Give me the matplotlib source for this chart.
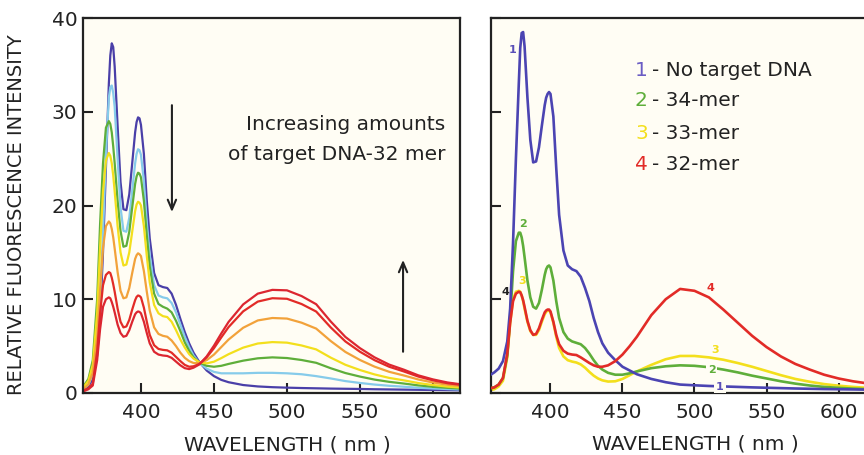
import matplotlib
matplotlib.use("Agg")
import matplotlib.pyplot as plt

# ---------------- data ----------------
wavelength = [358, 361, 364, 367, 370,
              372, 374, 376, 378, 379, 380, 381, 382, 384, 386, 388, 390, 392, 394, 396, 397, 398, 399, 400,
              402, 404, 406,
              409, 412, 415, 418, 421, 424, 427, 430, 433, 436,
              440, 445, 450, 455, 460,
              470, 480, 490, 500, 510, 520, 530, 540, 550, 560, 570, 580, 590, 600, 610,
              619]

# left panel: titration with increasing amounts of target DNA-32mer
left_blue = [0.3, 0.4, 0.7, 1.5, 4.0,
             8, 15, 24, 33, 36.0, 37.3, 36.9, 34.8, 28.5, 22.5, 19.6, 19.5, 21.2, 24.5, 27.8, 28.9, 29.4, 29.3, 28.6,
             25.5, 20.5, 16.5,
             12.8, 11.5, 11.3, 11.2, 10.6, 9.4, 7.9, 6.5, 5.3, 4.3,
             3.3, 2.4, 1.8, 1.4, 1.15,
             0.85, 0.7, 0.62, 0.57, 0.53, 0.5, 0.47, 0.45, 0.43, 0.4, 0.38, 0.36, 0.34, 0.32, 0.3,
             0.28]
left_lightblue = [0.4, 0.5, 0.9, 2.0, 5.0,
                  10, 17, 25.5, 31.5, 32.6, 32.8, 32.0, 30.5, 25, 19.8, 17.3, 17.2, 18.7, 21.6, 24.5, 25.5, 26.0, 25.9, 25.4,
                  22.6, 18.2, 14.7,
                  11.5, 10.4, 10.2, 10.1, 9.6, 8.6, 7.3, 6.0, 4.9, 4.0,
                  3.2, 2.6, 2.25, 2.1, 2.1,
                  2.1, 2.15, 2.15, 2.1, 2.0, 1.8, 1.55, 1.27, 1.07, 0.9, 0.77, 0.67, 0.56, 0.48, 0.42,
                  0.37]
left_green = [0.6, 0.8, 1.5, 3.5, 10,
              18, 24.5, 28.3, 29.0, 28.7, 27.8, 26.3, 24.5, 20.5, 17.3, 15.6, 15.7, 17.2, 19.8, 22.3, 23.1, 23.5, 23.4, 23.0,
              20.5, 16.8, 13.5,
              10.6, 9.5, 9.2, 9.0, 8.6, 7.7, 6.6, 5.4, 4.5, 3.8,
              3.25, 2.9, 2.8, 2.9, 3.1,
              3.45, 3.7, 3.8, 3.73, 3.52, 3.22, 2.64, 2.13, 1.75, 1.43, 1.19, 1.01, 0.81, 0.66, 0.55,
              0.47]
left_yellow = [0.5, 0.7, 1.3, 3.0, 8.5,
               15.5, 21.5, 24.8, 25.6, 25.3, 24.5, 23.2, 21.5, 17.8, 15.0, 13.6, 13.7, 15.0, 17.2, 19.4, 20.1, 20.4, 20.3, 20.0,
               17.8, 14.6, 11.8,
               9.4, 8.5, 8.2, 8.1, 7.6, 6.7, 5.7, 4.85, 4.15, 3.67,
               3.28, 3.16, 3.34, 3.72, 4.14,
               4.84, 5.28, 5.43, 5.37, 5.07, 4.65, 3.77, 3.01, 2.45, 1.98, 1.61, 1.35, 1.06, 0.85, 0.68,
               0.58]
left_orange = [0.35, 0.5, 0.9, 2.2, 6.0,
               11, 15.5, 17.8, 18.3, 18.1, 17.5, 16.6, 15.4, 12.9, 10.9, 10.1, 10.2, 11.2, 12.8, 14.3, 14.7, 14.9, 14.8, 14.6,
               13.0, 10.8, 8.8,
               7.0, 6.3, 6.1, 6.0, 5.6, 5.0, 4.3, 3.75, 3.4, 3.2,
               3.2, 3.5, 4.1, 4.9, 5.7,
               6.96, 7.74, 8.0, 7.94, 7.5, 6.87, 5.54, 4.38, 3.52, 2.81, 2.26, 1.87, 1.44, 1.12, 0.88,
               0.74]
left_red1 = [0.2, 0.3, 0.5, 1.0, 4.5,
             8.5, 11.5, 12.6, 12.9, 12.8, 12.3, 11.6, 10.8, 9.0, 7.6, 7.0, 7.1, 7.8, 8.9, 9.9, 10.25, 10.4, 10.35, 10.2,
             9.1, 7.6, 6.2,
             5.1, 4.7, 4.6, 4.55, 4.3, 3.85, 3.4, 3.0, 2.8, 2.85,
             3.1, 3.8, 4.78, 5.93, 7.03,
             8.71, 9.75, 10.11, 10.05, 9.49, 8.69, 6.99, 5.5, 4.4, 3.5, 2.8, 2.3, 1.75, 1.35, 1.04,
             0.87]
left_red2 = [0.15, 0.2, 0.4, 0.8, 3.5,
             6.8, 9.2, 10.0, 10.2, 10.1, 9.7, 9.2, 8.6, 7.3, 6.4, 6.0, 6.1, 6.7, 7.6, 8.4, 8.6, 8.7, 8.65, 8.5,
             7.6, 6.4, 5.3,
             4.4, 4.1, 4.0, 3.95, 3.75, 3.35, 2.95, 2.65, 2.55, 2.7,
             3.05, 3.9, 5.05, 6.35, 7.58,
             9.45, 10.6, 11.0, 10.95, 10.34, 9.47, 7.62, 5.98, 4.78, 3.8, 3.03, 2.49, 1.88, 1.45, 1.12,
             0.93]

# right panel: 1 no target, 2 34-mer, 3 33-mer, 4 32-mer
right_1 = [1.9, 2.2, 2.6, 3.4, 5.5,
           9, 16, 25, 33.0, 36.8, 38.4, 38.5, 37.0, 31.5, 27, 24.6, 24.7, 26.2, 28.5, 30.7, 31.5, 31.9, 32.1, 31.9,
           29.5, 24, 19,
           15.2, 13.6, 13.2, 13.0, 12.4, 11.2, 9.8, 8.0, 6.5, 5.3,
           4.3, 3.5, 2.8, 2.4, 2.0,
           1.5, 1.15, 0.9, 0.82, 0.75, 0.7, 0.65, 0.6, 0.56, 0.52, 0.48, 0.45, 0.42, 0.4, 0.38,
           0.36]
right_2 = [0.5, 0.6, 0.9, 1.6, 4.0,
           8, 13, 16.2, 17.1, 17.1, 16.6, 15.7, 14.5, 12, 10.2, 9.2, 9.0, 9.6, 11, 12.6, 13.2, 13.5, 13.6, 13.4,
           12, 9.8, 8,
           6.5, 5.8, 5.5, 5.35, 5.2, 4.8, 4.2, 3.5, 2.9, 2.5,
           2.15, 1.95, 1.95, 2.1, 2.3,
           2.65, 2.85, 2.95, 2.9, 2.75, 2.5, 2.2, 1.85, 1.55, 1.25, 1.0, 0.8, 0.65, 0.55, 0.47,
           0.42]
right_3 = [0.3, 0.4, 0.7, 1.3, 3.8,
           7.5, 10.0, 10.8, 10.9, 10.8, 10.4, 9.8, 9.0, 7.6, 6.6, 6.2, 6.2, 6.7, 7.6, 8.4, 8.65, 8.8, 8.8, 8.6,
           7.5, 6.0, 4.8,
           3.9, 3.5, 3.35, 3.25, 3.05, 2.7, 2.25, 1.85, 1.55, 1.35,
           1.22, 1.25, 1.5, 1.9, 2.3,
           3.0, 3.6, 3.95, 3.95, 3.8, 3.55, 3.2, 2.8, 2.35, 1.9, 1.5, 1.2, 0.95, 0.78, 0.65,
           0.56]
right_4 = [0.5, 0.6, 0.9, 1.6, 4.2,
           7.5, 9.8, 10.6, 10.8, 10.75, 10.4, 9.9, 9.2, 7.7, 6.7, 6.2, 6.3, 6.9, 7.8, 8.6, 8.8, 8.9, 8.9, 8.7,
           7.6, 6.2, 5.2,
           4.5, 4.2, 4.1, 4.05, 3.8, 3.5, 3.2, 2.95, 2.8, 2.8,
           2.95, 3.4, 4.1, 5.0, 6.0,
           8.3, 10.0, 11.1, 10.9, 10.2, 8.9, 7.5, 6.1, 4.9, 3.9, 3.1, 2.5, 1.95, 1.55, 1.25,
           1.05]

x_ticks = [400, 450, 500, 550, 600]
y_ticks = [0, 10, 20, 30, 40]
legend_numbers = ["1", "2", "3", "4"]
legend_labels = ["- No target DNA", "- 34-mer", "- 33-mer", "- 32-mer"]

# ---------------- style ----------------
BLUE = "#4A3FA8"
LBLUE = "#86CBEA"
GREEN = "#5EAE3A"
YELLOW = "#F3DF1C"
ORANGE = "#F2A23A"
RED = "#E22B27"
RED2 = "#DC2630"
TXT = "#222222"
BG = "#FFFDF4"

plt.rcParams["font.family"] = ["DejaVu Sans"]

W, H = 864, 455
fig = plt.figure(figsize=(W / 100, H / 100), dpi=100)
fig.patch.set_facecolor("white")


def frac(px, py):
    return px / W, 1 - py / H


axL = fig.add_axes([83 / W, 1 - 393 / H, (460 - 83) / W, (393 - 18) / H])
axR = fig.add_axes([491 / W, 1 - 393 / H, (864 - 491) / W, (393 - 18) / H])

for ax in (axL, axR):
    ax.set_facecolor(BG)
    ax.set_ylim(0, 40)
    ax.set_xticks(x_ticks)
    ax.set_yticks(y_ticks)
    for s in ax.spines.values():
        s.set_linewidth(1.6)
        s.set_color(TXT)
    ax.tick_params(direction="in", length=7, width=1.5, colors=TXT,
                   labelsize=14.5, labelcolor=TXT)
    ax.tick_params(axis="x", pad=7)
    ax.tick_params(axis="y", pad=4)

axL.set_xlim(360.3, 618.5)
axR.set_xlim(358.7, 617.7)
axR.set_yticklabels([])
axR.spines["right"].set_visible(False)

# left curves
lw = 1.6
for series, col in [(left_blue, BLUE), (left_lightblue, LBLUE), (left_green, GREEN),
                    (left_yellow, YELLOW), (left_orange, ORANGE), (left_red1, RED),
                    (left_red2, RED2)]:
    axL.plot(wavelength, series, color=col, lw=lw, solid_joinstyle="round",
             solid_capstyle="round")

# right curves
lwr = 1.9
axR.plot(wavelength, right_3, color=YELLOW, lw=lwr, solid_joinstyle="round", zorder=2)
axR.plot(wavelength, right_2, color=GREEN, lw=lwr, solid_joinstyle="round", zorder=3)
axR.plot(wavelength, right_1, color="#4B44B2", lw=lwr, solid_joinstyle="round", zorder=4)
axR.plot(wavelength, right_4, color=RED, lw=lwr, solid_joinstyle="round", zorder=5)

# curve number labels (right panel)
lab_kw = dict(fontsize=8, fontweight="bold", ha="center", va="center")
axR.text(374, 36.6, "1", color="#5A4FB8", zorder=6, **lab_kw)
axR.text(380.7, 18.0, "2", color=GREEN, zorder=6, **lab_kw)
axR.text(380, 11.9, "3", color=YELLOW, zorder=1, **lab_kw)
axR.text(369, 10.8, "4", color=TXT, zorder=6, **lab_kw)
axR.text(510.8, 11.2, "4", color=RED, zorder=6, **lab_kw)
axR.text(514.2, 4.6, "3", color=YELLOW, zorder=6, **lab_kw)
axR.text(512, 2.45, "2", color=GREEN, zorder=6,
         bbox=dict(boxstyle="square,pad=0.15", fc=BG, ec="none"), **lab_kw)
axR.text(517.7, 0.67, "1", color="#5A4FB8", zorder=6,
         bbox=dict(boxstyle="square,pad=0.15", fc=BG, ec="none"), **lab_kw)

# legend-like text in right panel
legend_colors = ["#6A5CC4", GREEN, YELLOW, RED]
legend_y = [70, 101, 133, 165]
for num, lab, col, py in zip(legend_numbers, legend_labels, legend_colors, legend_y):
    fx, fy = frac(635, py)
    fig.text(fx, fy, num, color=col, fontsize=14.5, ha="left", va="center")
    fx2, _ = frac(652, py)
    fig.text(fx2, fy, lab, color=TXT, fontsize=14.5, ha="left", va="center")

# left annotation
fx, fy = frac(445, 125)
fig.text(fx, fy, "Increasing amounts", color=TXT, fontsize=14.5, ha="right", va="center")
fx, fy = frac(445, 155)
fig.text(fx, fy, "of target DNA-32 mer", color=TXT, fontsize=14.5, ha="right", va="center")

arrow_kw = dict(arrowstyle="->,head_length=0.7,head_width=0.3", color=TXT, lw=1.5,
                shrinkA=0, shrinkB=0)
axL.annotate("", xy=(421.2, 19.3), xytext=(421.2, 30.7), arrowprops=arrow_kw)
axL.annotate("", xy=(579.5, 14.2), xytext=(579.5, 4.4), arrowprops=arrow_kw)

# axis labels
fx, fy = frac(17, 215)
fig.text(fx, fy, "RELATIVE FLUORESCENCE INTENSITY", rotation=90, color=TXT,
         fontsize=14, ha="center", va="center")
fx, fy = frac(287, 445)
fig.text(fx, fy, "WAVELENGTH ( nm )", color=TXT, fontsize=14.5, ha="center", va="center")
fx, fy = frac(695, 444)
fig.text(fx, fy, "WAVELENGTH ( nm )", color=TXT, fontsize=14.5, ha="center", va="center")

fig.savefig("out.png", dpi=100, facecolor="white")
